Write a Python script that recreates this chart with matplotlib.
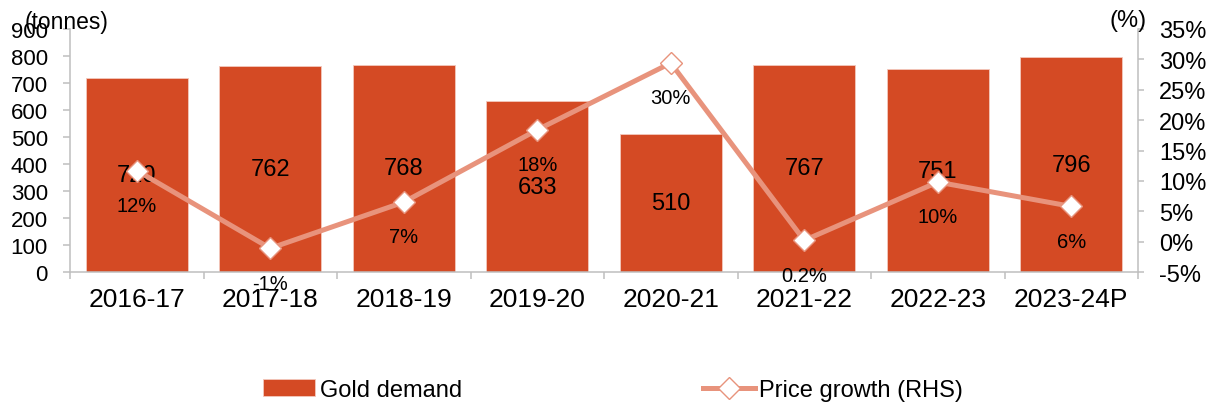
import matplotlib
matplotlib.use("Agg")
import matplotlib.pyplot as plt
import numpy as np
from matplotlib.ticker import FuncFormatter, FixedLocator

plt.rcParams['font.family'] = ['Liberation Sans', 'DejaVu Sans']

categories = ["2016-17", "2017-18", "2018-19", "2019-20", "2020-21", "2021-22", "2022-23", "2023-24P"]
gold_demand = [720, 762, 768, 633, 510, 767, 751, 796]
price_growth = [11.7, -1.1, 6.5, 18.4, 29.4, 0.2, 9.8, 5.8]
price_labels = ["12%", "-1%", "7%", "18%", "30%", "0.2%", "10%", "6%"]

BAR = "#D44A24"
LINE = "#E8937C"
SPINE = "#BFBFBF"

fig = plt.figure(figsize=(12.15, 4.06), dpi=100)
ax = fig.add_axes([70/1215, 1-273/406, (1138-70)/1215, (273-30)/406])
x = np.arange(len(categories))

bars = ax.bar(x, gold_demand, width=0.765, color=BAR, edgecolor="#F3C9BD", linewidth=0.6,
              label="Gold demand", zorder=2)
ax.bar_label(bars, labels=[str(v) for v in gold_demand], label_type="center", fontsize=17, color="black")

ax.set_xlim(-0.5, len(categories) - 0.5)
ax.set_ylim(0, 900)
ax.set_yticks(np.arange(0, 901, 100))
ax.set_xticks(x)
ax.set_xticklabels(categories, fontsize=19)
ax.xaxis.set_minor_locator(FixedLocator(np.arange(-0.5, len(categories), 1.0)))
ax.tick_params(axis="x", which="major", length=0, pad=11)
ax.tick_params(axis="x", which="minor", length=5, width=1.1, color=SPINE, direction="out")
ax.tick_params(axis="y", labelsize=16, length=5, width=1.1, color=SPINE, pad=11)

for s in ["top", "right"]:
    ax.spines[s].set_visible(False)
for s in ["left", "bottom"]:
    ax.spines[s].set_color(SPINE)
    ax.spines[s].set_linewidth(1.1)

ax2 = ax.twinx()
ax2.plot(x, price_growth, color=LINE, linewidth=3.6, marker="D", markersize=11,
         markerfacecolor="white", markeredgecolor=LINE, markeredgewidth=1.0,
         label="Price growth (RHS)", zorder=3)
for xi, yi, lab in zip(x, price_growth, price_labels):
    ax2.annotate(lab, (xi, yi), xytext=(0, -25), textcoords="offset points",
                 ha="center", va="center", fontsize=14.5, color="black")
ax2.set_ylim(-5, 35)
ax2.set_yticks(np.arange(-5, 36, 5))
ax2.yaxis.set_major_formatter(FuncFormatter(lambda v, p: f"{v:.0f}%"))
ax2.tick_params(axis="y", labelsize=17, length=4, width=1.1, color=SPINE, pad=11)
for s in ["top", "left", "bottom"]:
    ax2.spines[s].set_visible(False)
ax2.spines["right"].set_color(SPINE)
ax2.spines["right"].set_linewidth(1.1)

fig.text(25/1215, 1-22/406, "(tonnes)", fontsize=16.5, ha="left", va="center")
fig.text(1147/1215, 1-21/406, "(%)", fontsize=17, ha="right", va="center")

h1, l1 = ax.get_legend_handles_labels()
h2, l2 = ax2.get_legend_handles_labels()
fig.legend(h1 + h2, l1 + l2, loc="center left", bbox_to_anchor=(263/1215, 1-391/406),
           bbox_transform=fig.transFigure, ncol=2, frameon=False, fontsize=17,
           handlelength=2.2, handletextpad=0.2, columnspacing=10.2,
           borderpad=0, borderaxespad=0)

fig.savefig("out.png", dpi=100)
